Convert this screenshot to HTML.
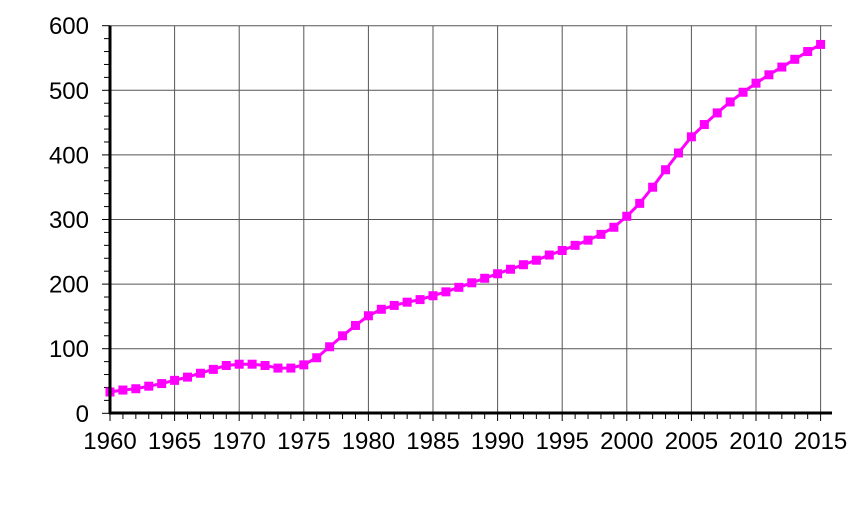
<!DOCTYPE html>
<html><head><meta charset="utf-8"><style>
html,body{margin:0;padding:0;background:#fff;}
svg{display:block;font-family:"Liberation Sans",sans-serif;}
</style></head><body>
<svg width="854" height="512" viewBox="0 0 854 512" xmlns="http://www.w3.org/2000/svg">
<g id="grid" stroke="#555" stroke-width="1"></g>
<g id="ticks" stroke="#000" stroke-width="1"></g>
<g id="labels" font-size="24" fill="#000"></g>
<polyline id="line" fill="none" stroke="#ff00ff" stroke-width="3" stroke-linejoin="round"/>
<g id="marks" fill="#ff00ff"></g>
<line x1="110" y1="25.7" x2="110" y2="414" stroke="#000" stroke-width="3"/>
<line x1="109" y1="413" x2="832" y2="413" stroke="#000" stroke-width="3"/>
</svg>
<script>
var NS="http://www.w3.org/2000/svg";
function X(y){return 110+(y-1960)*12.92;}
function Y(v){return 413.3-v*0.646;}
function el(p,t,a,txt){var e=document.createElementNS(NS,t);for(var k in a)e.setAttribute(k,a[k]);if(txt!=null)e.textContent=txt;document.getElementById(p).appendChild(e);}
for(var v=100;v<=600;v+=100)el("grid","line",{x1:110,x2:832,y1:Y(v),y2:Y(v)});
for(var y=1965;y<=2015;y+=5)el("grid","line",{x1:X(y),x2:X(y),y1:Y(600),y2:Y(0)});
for(var v=0;v<=600;v+=20)el("ticks","line",{x1:v%100?104:102,x2:110,y1:Y(v),y2:Y(v)});
for(var y=1960;y<=2015;y++)el("ticks","line",{x1:X(y),x2:X(y),y1:413,y2:y%5?419:421});
for(var v=0;v<=600;v+=100)el("labels","text",{x:89,y:Y(v)+8.5,"text-anchor":"end"},v);
for(var y=1960;y<=2015;y+=5)el("labels","text",{x:X(y),y:449,"text-anchor":"middle"},y);
var d=[33,36,38,42,46,51,56,62,68,74,76,76,74,70,70,75,86,103,120,136,151,161,167,172,176,182,188,195,202,209,216,223,230,237,245,252,260,268,277,288,305,325,350,377,403,428,447,465,482,497,511,524,536,548,560,571];
var pts=[];
for(var i=0;i<d.length;i++){var x=X(1960+i),yy=Y(d[i]);pts.push(x+","+yy);el("marks","rect",{x:x-4.5,y:yy-4.5,width:9,height:9});}
document.getElementById("line").setAttribute("points",pts.join(" "));
</script>
</body></html>
